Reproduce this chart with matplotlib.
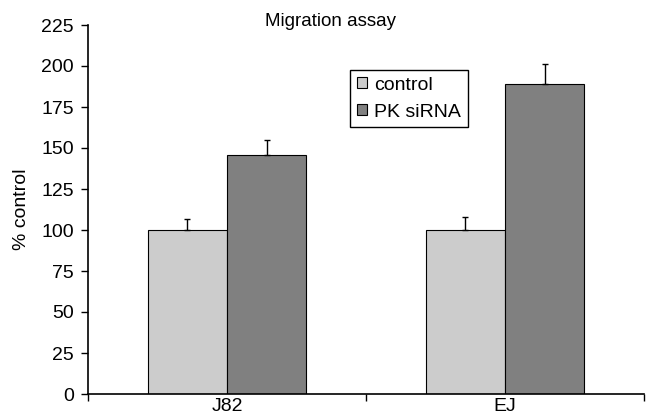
import matplotlib
matplotlib.use('Agg')
import matplotlib.pyplot as plt
from matplotlib.patches import Patch
import numpy as np

# ── Data ────────────────────────────────────────────────────────────────────
cell_lines = ['J82', 'EJ']
series_names = ['control', 'PK siRNA']
control_vals = [100, 100]
control_err = [7, 8]
pk_vals = [146, 189]
pk_err = [9, 12]
y_ticks = [0, 25, 50, 75, 100, 125, 150, 175, 200, 225]

plt.rcParams['font.family'] = ['Liberation Sans', 'DejaVu Sans']
FS = 14

fig = plt.figure(figsize=(6.47, 4.19), dpi=100)
ax = fig.add_axes([88 / 647, 1 - 394 / 419, (644 - 88) / 647, (394 - 25) / 419])

x = np.arange(len(cell_lines))
w = 0.285

ax.bar(x - w / 2, control_vals, w, color='#cccccc', edgecolor='black', linewidth=0.8,
       yerr=[np.zeros(len(control_err)), control_err], capsize=2.5,
       error_kw=dict(elinewidth=1, capthick=1, ecolor='black'), zorder=2)
ax.bar(x + w / 2, pk_vals, w, color='#808080', edgecolor='black', linewidth=0.8,
       yerr=[np.zeros(len(pk_err)), pk_err], capsize=2.5,
       error_kw=dict(elinewidth=1, capthick=1, ecolor='black'), zorder=2)

ax.set_xlim(-0.5, len(cell_lines) - 0.5)
ax.set_ylim(0, 225)
ax.set_yticks(y_ticks)
ax.tick_params(axis='y', direction='out', length=5, width=1, labelsize=FS, pad=5)

# category labels at centres, boundary ticks between them
ax.set_xticks(x)
ax.set_xticklabels(cell_lines, fontsize=FS)
ax.tick_params(axis='x', which='major', length=0, pad=3)
ax.set_xticks([-0.5, 0.5, 1.5], minor=True)
ax.tick_params(axis='x', which='minor', direction='out', length=5, width=1)

for s in ['top', 'right']:
    ax.spines[s].set_visible(False)
for s in ['left', 'bottom']:
    ax.spines[s].set_linewidth(1.2)

ax.set_ylabel('% control', fontsize=FS, labelpad=8)

fig.text(265 / 647, 1 - 21 / 419, 'Migration assay', fontsize=13.5,
         ha='left', va='center')

handles = [Patch(facecolor='#cccccc', edgecolor='black', linewidth=0.8),
           Patch(facecolor='#808080', edgecolor='black', linewidth=0.8)]
leg = ax.legend(handles, series_names, loc='upper left',
                bbox_to_anchor=((350 - 88) / 556, 1 - (70 - 25) / 369),
                fontsize=FS, frameon=True, fancybox=False, framealpha=1,
                handlelength=0.5, handleheight=0.5, handletextpad=0.4,
                borderpad=0.35, labelspacing=0.5, borderaxespad=0)
leg.get_frame().set_edgecolor('black')
leg.get_frame().set_linewidth(1)

fig.savefig('out.png', dpi=100)
